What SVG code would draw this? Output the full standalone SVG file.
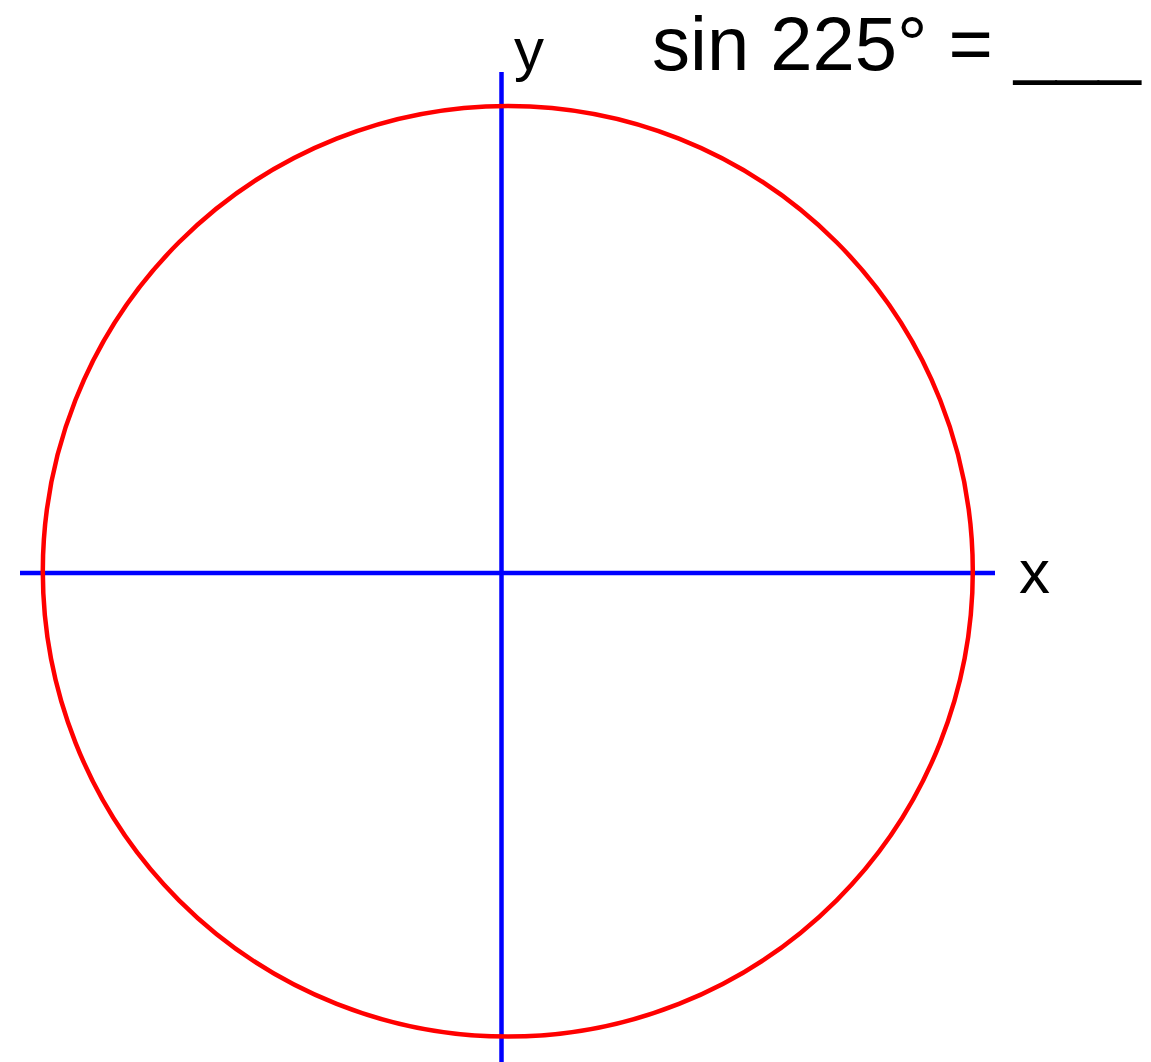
<svg xmlns="http://www.w3.org/2000/svg" width="1151" height="1062" viewBox="0 0 1151 1062">
<style>
.axis{stroke:#0000ff;stroke-width:4.5;fill:none}
.circ{stroke:#ff0000;stroke-width:4.5;fill:none}
.lbl{font-family:"Liberation Sans",Arial,sans-serif;fill:#000}
</style>
<rect width="1151" height="1062" fill="#fff"/>
<g id="axes">
<line class="axis" x1="20" y1="573" x2="995" y2="573"/>
<line class="axis" x1="501.5" y1="72" x2="501.5" y2="1062"/>
</g>
<g id="unit-circle">
<ellipse class="circ" cx="507.8" cy="571.3" rx="465" ry="465.3"/>
</g>
<g id="labels">
<text class="lbl" x="514" y="70" font-size="60">y</text>
<text class="lbl" x="1019" y="593" font-size="62">x</text>
<text class="lbl" x="652" y="70" font-size="76">sin 225° = ___</text>
</g>
</svg>
